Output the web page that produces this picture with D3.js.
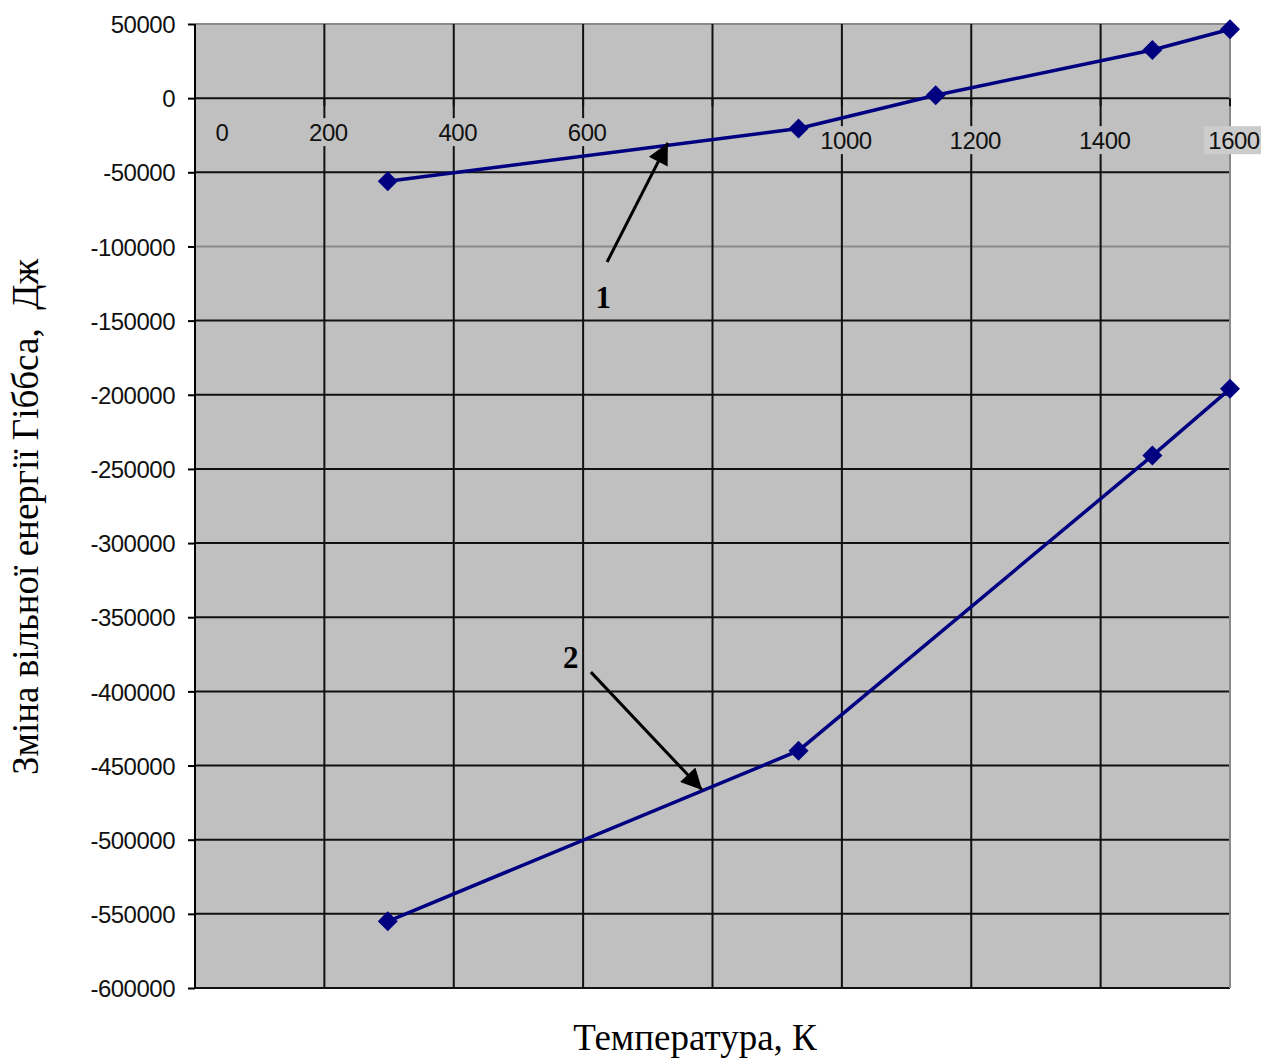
<!DOCTYPE html>
<html>
<head>
<meta charset="utf-8">
<script src="https://cdn.jsdelivr.net/npm/d3@7"></script>
<style>
  html, body { margin: 0; padding: 0; background: #ffffff; }
  svg { display: block; }
</style>
</head>
<body>
<svg id="chart" width="1261" height="1059"></svg>
<script>
// ---- data ----
const temps1 = [298, 933, 1145, 1480, 1600];
const gibbs1 = [-56000, -20500, 2000, 32500, 46500];
const temps2 = [298, 933, 1480, 1600];
const gibbs2 = [-555000, -440000, -241000, -196000];
const xTickLabels = [0, 200, 400, 600, 1000, 1200, 1400, 1600];
const xGrid = [0, 200, 400, 600, 800, 1000, 1200, 1400, 1600];
const yTicks = [50000, 0, -50000, -100000, -150000, -200000, -250000, -300000,
                -350000, -400000, -450000, -500000, -550000, -600000];
const lightGrid = [50000, -100000];
const annLabels = ["1", "2"];
const annText = [[631, -134000], [581, -377000]];
const annFrom = [[637, -110500], [612, -387000]];
const annTo = [[731, -30200], [784, -466500]];
const xTitle = "Температура, К";
const yTitle = "Зміна вільної енергії Гіббса,  Дж";

// ---- layout ----
const svg = d3.select("#chart");
const x = d3.scaleLinear().domain([0, 1600]).range([195, 1230]);
const y = d3.scaleLinear().domain([50000, -600000]).range([24, 988]);

svg.append("defs").append("marker")
  .attr("id", "arr").attr("viewBox", "0 0 10 10")
  .attr("refX", 10).attr("refY", 5)
  .attr("markerWidth", 9).attr("markerHeight", 7)
  .attr("markerUnits", "strokeWidth")
  .attr("orient", "auto")
  .append("path").attr("d", "M0,0 L10,5 L0,10 Z").attr("fill", "#000");

// plot area
svg.append("rect")
  .attr("x", x(0)).attr("y", y(50000))
  .attr("width", x(1600) - x(0)).attr("height", y(-600000) - y(50000))
  .attr("fill", "#c0c0c0");

// horizontal gridlines
svg.append("g").selectAll("line").data(yTicks).join("line")
  .attr("x1", x(0)).attr("x2", x(1600))
  .attr("y1", d => y(d)).attr("y2", d => y(d))
  .attr("stroke", d => lightGrid.includes(d) ? "#8a8a8a" : "#111")
  .attr("stroke-width", 2);

// vertical gridlines
svg.append("g").selectAll("line").data(xGrid).join("line")
  .attr("x1", d => x(d)).attr("x2", d => x(d))
  .attr("y1", y(50000)).attr("y2", y(-600000))
  .attr("stroke", d => d === 1600 ? "#8a8a8a" : "#111")
  .attr("stroke-width", 2);

// x tick marks on the zero line
svg.append("g").selectAll("line").data(xGrid).join("line")
  .attr("x1", d => x(d)).attr("x2", d => x(d))
  .attr("y1", y(0)).attr("y2", y(0) + 8)
  .attr("stroke", "#111").attr("stroke-width", 2);

// y axis
svg.append("line")
  .attr("x1", x(0)).attr("x2", x(0))
  .attr("y1", y(50000)).attr("y2", y(-600000))
  .attr("stroke", "#000").attr("stroke-width", 2);
const yAxis = d3.axisLeft(y).tickValues(yTicks).tickSize(7).tickPadding(13)
  .tickFormat(d => d3.format("d")(d).replace("−", "-"));
const gy = svg.append("g").attr("transform", `translate(${x(0)},1)`).call(yAxis);
gy.select(".domain").remove();
gy.selectAll(".tick line").attr("stroke", "#000").attr("stroke-width", 2).attr("transform", "translate(0,-1)");
gy.selectAll(".tick text")
  .attr("font-family", "'Liberation Sans', Arial, sans-serif")
  .attr("font-size", 24).attr("fill", "#111")
  .attr("letter-spacing", "-0.5px");

// x tick labels along the zero line
const xl = svg.append("g").selectAll("g").data(xTickLabels).join("g")
  .attr("transform", d => `translate(${x(d) + (d === 0 ? 27 : 4)},${y(0) + (d >= 1000 ? 47 : 39)})`);
xl.append("rect")
  .attr("x", d => d >= 1000 ? -30 : -24).attr("y", -19)
  .attr("width", d => d >= 1000 ? 60 : 48).attr("height", 28)
  .attr("fill", d => d === 1600 ? "#cccccc" : "#c0c0c0");
xl.append("text")
  .attr("text-anchor", "middle")
  .attr("font-family", "'Liberation Sans', Arial, sans-serif")
  .attr("font-size", 24).attr("fill", "#111")
  .attr("letter-spacing", "-0.5px")
  .attr("y", 4)
  .text(d => d);

// series
const line = d3.line().x(d => x(d[0])).y(d => y(d[1]));
const s1 = temps1.map((t, i) => [t, gibbs1[i]]);
const s2 = temps2.map((t, i) => [t, gibbs2[i]]);
[s1, s2].forEach(s => {
  svg.append("path").datum(s).attr("d", line)
    .attr("fill", "none").attr("stroke", "#000080").attr("stroke-width", 3.5);
  svg.append("g").selectAll("path").data(s).join("path")
    .attr("d", d3.symbol(d3.symbolSquare, 200))
    .attr("transform", d => `translate(${x(d[0])},${y(d[1])}) rotate(45)`)
    .attr("fill", "#000080");
});

// annotations
annLabels.forEach((lab, i) => {
  svg.append("line")
    .attr("x1", x(annFrom[i][0])).attr("y1", y(annFrom[i][1]))
    .attr("x2", x(annTo[i][0])).attr("y2", y(annTo[i][1]))
    .attr("stroke", "#000").attr("stroke-width", 3)
    .attr("marker-end", "url(#arr)");
  svg.append("text")
    .attr("x", x(annText[i][0])).attr("y", y(annText[i][1]) + 11)
    .attr("text-anchor", "middle")
    .attr("font-family", "'Liberation Serif', 'Times New Roman', serif")
    .attr("font-weight", "bold").attr("font-size", 31)
    .text(lab);
});

// axis titles
svg.append("text")
  .attr("x", 695).attr("y", 1050)
  .attr("text-anchor", "middle")
  .attr("font-family", "'Liberation Serif', 'Times New Roman', serif")
  .attr("font-size", 37).attr("fill", "#000")
  .text(xTitle);
svg.append("text")
  .attr("transform", "translate(38,517) rotate(-90)")
  .attr("text-anchor", "middle")
  .attr("font-family", "'Liberation Serif', 'Times New Roman', serif")
  .attr("font-size", 37).attr("fill", "#000")
  .attr("xml:space", "preserve")
  .style("white-space", "pre")
  .text(yTitle);
</script>
</body>
</html>
